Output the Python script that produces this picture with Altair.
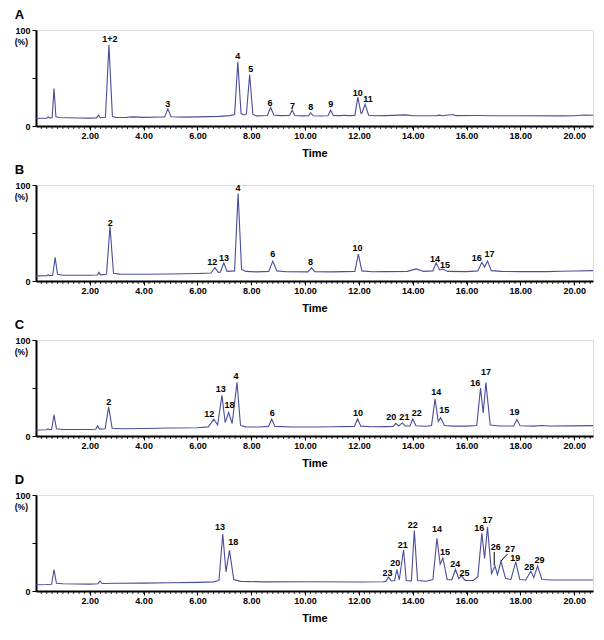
import altair as alt
import pandas as pd

LINE_COLOR = "#4a4d9b"
FONT = "Liberation Sans"

# ---------------- Panel A ----------------
A_time = [0.0, 0.40, 0.45, 0.50, 0.60, 0.67, 0.74, 0.85, 1.2, 1.6, 2.0, 2.25, 2.32, 2.39, 2.58, 2.71, 2.84,
          2.95, 3.3, 3.6, 4.0, 4.6, 4.78, 4.90, 5.02, 5.5, 6.0, 6.8, 7.2, 7.38, 7.50, 7.62, 7.74, 7.82, 7.94,
          8.06, 8.2, 8.6, 8.72, 8.84, 9.1, 9.42, 9.52, 9.62, 9.9, 10.12, 10.21, 10.30, 10.6, 10.85, 10.95,
          11.05, 11.3, 11.5, 11.6, 11.85, 11.96, 12.08, 12.12, 12.23, 12.36, 12.6, 13.0, 13.75, 14.0, 14.9,
          15.0, 15.1, 15.5, 15.6, 16.3, 17.0, 18.0, 19.5, 20.0, 20.4, 20.7]
A_signal = [8.0, 8.2, 9.5, 8.3, 8.5, 39.0, 9.5, 8.8, 8.6, 8.3, 8.2, 8.5, 11.3, 8.6, 9.0, 84.5, 10.0,
            9.0, 8.8, 9.5, 9.0, 9.3, 9.5, 17.8, 9.6, 9.2, 9.5, 10.0, 10.8, 12.0, 67.0, 13.0, 11.5, 12.5, 53.6,
            12.0, 10.5, 11.0, 19.3, 11.5, 10.8, 11.0, 16.5, 11.0, 10.5, 10.6, 13.7, 10.6, 10.4, 10.7, 16.5,
            11.0, 10.8, 11.2, 10.8, 11.0, 30.0, 13.0, 14.0, 22.7, 11.2, 10.6, 10.8, 11.6, 10.7, 10.8,
            11.3, 10.7, 12.0, 10.8, 10.9, 10.6, 10.6, 10.5, 10.7, 11.5, 11.2]
A_labels = ["1+2", "3", "4", "5", "6", "7", "8", "9", "10", "11"]
A_label_time = [2.75, 4.90, 7.50, 7.98, 8.70, 9.53, 10.21, 10.95, 11.96, 12.34]
A_label_y = [91.0, 22.7, 72.9, 59.5, 24.0, 21.3, 19.3, 22.4, 34.0, 27.8]

# ---------------- Panel B ----------------
B_time = [0.0, 0.4, 0.45, 0.5, 0.62, 0.71, 0.80, 1.0, 1.5, 2.0, 2.28, 2.34, 2.40, 2.62, 2.75, 2.88, 3.1,
          4.0, 5.0, 6.0, 6.50, 6.65, 6.78, 6.85, 6.98, 7.1, 7.38, 7.51, 7.64, 7.8, 8.2, 8.65, 8.80, 8.95,
          9.3, 10.1, 10.24, 10.36, 11.0, 11.85, 11.98, 12.11, 12.5, 13.0, 13.8, 14.13, 14.4, 14.75, 14.87,
          15.0, 15.12, 15.3, 16.0, 16.42, 16.57, 16.67, 16.78, 16.92, 17.3, 18.0, 19.0, 19.5, 20.0, 20.7]
B_signal = [5.3, 5.5, 6.5, 5.6, 6.0, 24.6, 7.0, 6.0, 6.0, 6.0, 6.3, 9.0, 6.4, 7.0, 57.0, 8.0, 7.2,
            7.0, 7.3, 7.8, 8.3, 14.0, 9.0, 9.2, 19.0, 10.0, 10.5, 91.0, 12.0, 10.0, 9.5, 10.0, 20.7, 10.5,
            9.7, 9.5, 13.7, 9.8, 9.5, 10.0, 28.0, 10.5, 9.6, 9.8, 10.0, 12.6, 10.0, 10.5, 19.0,
            11.5, 12.5, 10.0, 9.8, 10.5, 19.4, 14.5, 20.8, 10.8, 10.0, 9.8, 9.8, 10.2, 10.4, 10.8]
B_labels = ["2", "12", "13", "4", "6", "8", "10", "14", "15", "16", "17"]
B_label_time = [2.76, 6.55, 6.99, 7.51, 8.80, 10.2, 11.95, 14.83, 15.2, 16.38, 16.85]
B_label_y = [60.6, 19.7, 24.3, 97.3, 27.8, 19.7, 34.1, 22.8, 16.5, 23.6, 27.8]

# ---------------- Panel C ----------------
C_time = [0.0, 0.4, 0.45, 0.5, 0.58, 0.67, 0.76, 1.0, 1.5, 2.0, 2.22, 2.29, 2.36, 2.57, 2.70, 2.83, 3.2,
          4.0, 5.0, 6.0, 6.40, 6.61, 6.75, 6.91, 7.03, 7.16, 7.29, 7.47, 7.60, 7.8, 8.3, 8.64, 8.76, 8.88,
          9.5, 10.5, 11.0, 11.83, 11.95, 12.07, 12.5, 13.0, 13.28, 13.37, 13.48, 13.61, 13.72, 13.9, 14.0,
          14.12, 14.5, 14.70, 14.83, 14.95, 15.04, 15.18, 15.5, 16.0, 16.38, 16.52, 16.62, 16.72, 16.88,
          17.2, 17.75, 17.87, 17.99, 18.5, 18.8, 19.1, 20.0, 20.7]
C_signal = [6.3, 6.5, 7.5, 6.6, 6.8, 22.0, 7.5, 6.8, 6.7, 6.8, 7.0, 10.5, 7.2, 7.5, 30.4, 8.0, 7.5,
            7.8, 8.3, 8.6, 9.5, 17.5, 11.5, 42.3, 14.0, 24.5, 13.0, 56.0, 11.0, 9.5, 9.3, 10.0, 17.5, 10.0,
            9.3, 9.4, 9.6, 10.0, 17.8, 10.3, 9.7, 9.8, 10.0, 13.3, 10.5, 13.6, 10.5, 10.4, 17.8,
            10.6, 10.2, 11.0, 38.8, 15.0, 19.2, 11.0, 10.3, 10.3, 11.0, 50.0, 24.0, 55.6, 11.5,
            10.4, 10.5, 17.2, 10.6, 10.3, 11.0, 10.4, 10.5, 10.8]
C_labels = ["2", "12", "13", "18", "4", "6", "10", "20", "21", "22", "14", "15", "16", "17", "19"]
C_label_time = [2.70, 6.44, 6.87, 7.19, 7.43, 8.78, 11.97, 13.2, 13.69, 14.15, 14.87, 15.17, 16.32, 16.72, 17.78]
C_label_y = [35.3, 22.7, 49.0, 32.5, 62.3, 23.5, 23.5, 20.3, 20.3, 23.8, 45.5, 27.3, 55.2, 66.5, 24.5]

# ---------------- Panel D ----------------
D_time = [0.0, 0.4, 0.58, 0.67, 0.76, 1.0, 1.5, 2.0, 2.30, 2.38, 2.46, 3.0, 4.0, 5.0, 6.0, 6.6, 6.80,
          6.94, 7.06, 7.19, 7.35, 7.6, 8.5, 10.0, 12.0, 12.9, 13.00, 13.10, 13.2, 13.33, 13.41, 13.50,
          13.66, 13.76, 13.95, 14.06, 14.18, 14.5, 14.75, 14.90, 15.02, 15.12, 15.28, 15.45, 15.59, 15.71,
          15.82, 15.95, 16.25, 16.42, 16.57, 16.67, 16.78, 16.93, 17.06, 17.15, 17.28, 17.45, 17.65, 17.83,
          17.98, 18.2, 18.39, 18.50, 18.64, 18.80, 19.2, 20.0, 20.7]
D_signal = [6.5, 6.7, 7.0, 22.4, 8.0, 7.5, 7.3, 7.2, 7.6, 10.3, 7.8, 8.0, 8.2, 8.6, 9.0, 9.5, 11.0,
            59.3, 20.0, 42.4, 12.0, 10.0, 9.5, 9.6, 9.4, 9.6, 10.0, 14.5, 10.5, 11.0, 22.4, 11.5,
            43.0, 11.0, 10.5, 63.0, 11.0, 10.2, 12.0, 55.0, 28.0, 34.4, 12.0, 11.5, 22.4, 13.0,
            15.5, 11.0, 11.0, 15.0, 60.3, 34.0, 66.5, 18.0, 25.9, 17.0, 31.0, 13.0, 12.0, 30.3,
            12.0, 11.5, 20.7, 14.0, 25.9, 12.0, 11.5, 11.5, 11.4]
D_labels = ["13", "18", "23", "20", "21", "22", "14", "15", "24", "25", "16", "17", "26", "27", "19", "28", "29"]
D_label_time = [6.84, 7.33, 13.06, 13.35, 13.63, 14.0, 14.9, 15.2, 15.58, 15.92, 16.47, 16.78, 17.09, 17.62,
                17.81, 18.33, 18.71]
D_label_y = [66.2, 51.4, 18.3, 29.3, 47.6, 69.0, 64.8, 40.6, 28.2, 18.9, 65.5, 74.1, 45.8, 43.8, 34.6, 25.1, 32.8]
# leader lines for labels 26 and 27
D_leader_t1 = [17.03, 17.52]
D_leader_y1 = [40.7, 38.5]
D_leader_t2 = [17.03, 17.27]
D_leader_y2 = [26.5, 31.0]

X_MAJOR = [2, 4, 6, 8, 10, 12, 14, 16, 18, 20]
X_MINOR = [round(i * 0.2, 1) for i in range(1, 104)]
PLOT_H = 96


def panel(letter, times, signals, labels, label_t, label_y, leaders=None):
    xscale = alt.Scale(domain=[0, 20.7], nice=False, zero=False)
    yscale = alt.Scale(domain=[0, 100], nice=False)
    x_axis = alt.Axis(
        values=X_MAJOR, format=".2f",
        labelOverlap=False, labelFlush=False,
        tickSize=4, tickColor="black", tickWidth=1,
        domainColor="black", domainWidth=2,
        labelFont=FONT, labelFontSize=9, labelFontWeight="bold", labelColor="black", labelPadding=1,
        title="Time", titleFont=FONT, titleFontSize=11, titleFontWeight="bold", titleColor="black",
        titlePadding=7, grid=False,
    )
    y_axis = alt.Axis(
        values=[0, 50, 100],
        labelExpr="datum.value == 50 ? '' : datum.label",
        labelOverlap=False,
        tickSize=4, tickColor="black", tickWidth=1,
        domainColor="black", domainWidth=2,
        labelFont=FONT, labelFontSize=9, labelFontWeight="bold", labelColor="black", labelPadding=2,
        title=None, grid=False,
    )
    trace = pd.DataFrame({"t": times, "s": signals})
    line = alt.Chart(trace).mark_line(color=LINE_COLOR, strokeWidth=1.1).encode(
        x=alt.X("t:Q", scale=xscale, axis=x_axis),
        y=alt.Y("s:Q", scale=yscale, axis=y_axis),
    )
    minor = alt.Chart(pd.DataFrame({"t": X_MINOR})).mark_rule(color="black", strokeWidth=0.8).encode(
        x="t:Q", y=alt.value(PLOT_H), y2=alt.value(PLOT_H + 3)
    )
    lab_df = pd.DataFrame({"t": label_t, "s": label_y, "lab": labels})
    text = alt.Chart(lab_df).mark_text(
        font=FONT, fontSize=9, fontWeight="bold", color="black", baseline="middle", align="center"
    ).encode(x="t:Q", y="s:Q", text="lab:N")
    pct = alt.Chart(pd.DataFrame({"lab": ["(%)"]})).mark_text(
        font=FONT, fontSize=8.5, fontWeight="bold", color="black", align="right", baseline="middle", dy=12
    ).encode(x=alt.value(-8), y=alt.datum(100), text="lab:N")
    layers = [line, minor, text, pct]
    if leaders is not None:
        lead_df = pd.DataFrame({"t1": leaders[0], "y1": leaders[1], "t2": leaders[2], "y2": leaders[3]})
        rule = alt.Chart(lead_df).mark_rule(color="black", strokeWidth=1).encode(
            x="t1:Q", y="y1:Q", x2="t2:Q", y2="y2:Q"
        )
        layers.append(rule)
    return alt.layer(*layers).properties(
        width=557, height=PLOT_H,
        title=alt.TitleParams(text=letter, anchor="start", frame="bounds", font=FONT, fontSize=13,
                              fontWeight="bold", color="black", offset=4),
    )


pA = panel("A", A_time, A_signal, A_labels, A_label_time, A_label_y)
pB = panel("B", B_time, B_signal, B_labels, B_label_time, B_label_y)
pC = panel("C", C_time, C_signal, C_labels, C_label_time, C_label_y)
pD = panel("D", D_time, D_signal, D_labels, D_label_time, D_label_y,
           leaders=(D_leader_t1, D_leader_y1, D_leader_t2, D_leader_y2))

chart = alt.vconcat(pA, pB, pC, pD, spacing=59, bounds="flush").properties(
    padding={"left": 6, "top": 0, "right": 0, "bottom": 0}
).configure_view(stroke=None).configure_axis(labelOverlap=False).configure(background="white")

chart.save("out.html", embed_options={"renderer": "svg", "actions": False})
